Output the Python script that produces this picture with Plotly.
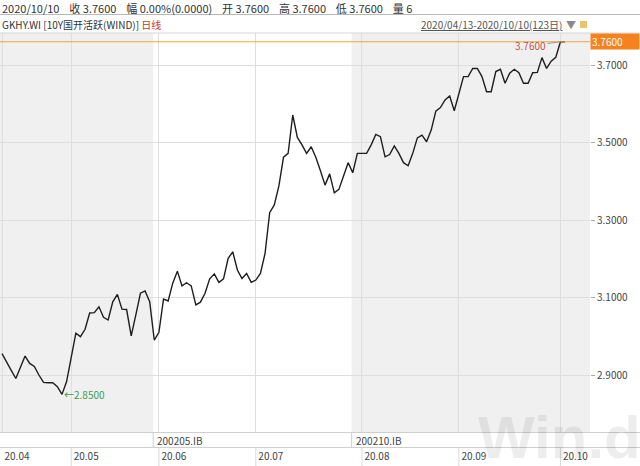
import plotly.graph_objects as go

# ---------------- data ----------------
values = [
    2.955, 2.935, 2.912, 2.891, 2.920, 2.949, 2.930, 2.922, 2.900, 2.881,
    2.880, 2.880, 2.870, 2.850, 2.883, 2.950, 3.008, 2.999, 3.018, 3.060,
    3.061, 3.076, 3.049, 3.042, 3.089, 3.108, 3.070, 3.069, 3.001, 3.055,
    3.111, 3.117, 3.089, 2.990, 3.010, 3.096, 3.091, 3.137, 3.168, 3.130,
    3.138, 3.130, 3.081, 3.088, 3.111, 3.148, 3.161, 3.139, 3.148, 3.201,
    3.218, 3.171, 3.149, 3.162, 3.139, 3.145, 3.162, 3.214, 3.319, 3.339,
    3.388, 3.462, 3.472, 3.571, 3.513, 3.494, 3.472, 3.489, 3.462, 3.427,
    3.390, 3.419, 3.370, 3.379, 3.413, 3.448, 3.422, 3.472, 3.472, 3.472,
    3.494, 3.521, 3.515, 3.463, 3.469, 3.491, 3.472, 3.448, 3.440, 3.472,
    3.512, 3.519, 3.502, 3.532, 3.581, 3.590, 3.610, 3.620, 3.582, 3.629,
    3.670, 3.670, 3.691, 3.691, 3.670, 3.631, 3.631, 3.683, 3.689, 3.653,
    3.679, 3.689, 3.680, 3.653, 3.653, 3.680, 3.681, 3.719, 3.691, 3.710,
    3.720, 3.760, 3.760,
]
month_idx = [0, 15, 34, 55, 78, 99, 121]
month_labels = ["20.04", "20.05", "20.06", "20.07", "20.08", "20.09", "20.10"]
y_ticks = [2.9, 3.1, 3.3, 3.5, 3.7]
contract_first_idx = [33, 76]
contract_names = ["200205.IB", "200210.IB"]

header_items = ["2020/10/10", "收\u00a03.7600", "幅\u00a00.00%(0.0000)", "开\u00a03.7600",
                "高\u00a03.7600", "低\u00a03.7600", "量\u00a06"]
header_code = "GKHY.WI [10Y国开活跃(WIND)]"
header_freq = "日线"
date_range = "2020/04/13-2020/10/10(123日)"

x = list(range(len(values)))
last_i = len(values) - 1
last_v = values[-1]
min_i = values.index(min(values))
min_v = values[min_i]

# ---------------- layout geometry ----------------
W, H = 640, 466
ML, MR, MT, MB = 0, 50, 33, 34
PW, PH = W - ML - MR, H - MT - MB
X_RANGE = [-0.433, 127.41]
Y_RANGE = [2.7529, 3.7826]


def py(p):
    """pixel row -> paper y"""
    return 1 + (MT - p) / PH


def px(p):
    """pixel column -> paper x"""
    return (p - ML) / PW


FONT = "Noto Sans CJK SC, Noto Sans, sans-serif"
GRID = "#dedede"
BAND = "#f0f0f0"

fig = go.Figure()
fig.add_trace(go.Scatter(
    x=x, y=values, mode="lines",
    line=dict(color="#1e1e1e", width=1.4),
    hoverinfo="skip", showlegend=False,
))

shapes = []
# alternating contract background bands
bounds = [X_RANGE[0]] + [c - 0.25 for c in contract_first_idx] + [X_RANGE[1]]
for k in range(len(bounds) - 1):
    if k % 2 == 0:
        shapes.append(dict(type="rect", xref="x", yref="paper",
                           x0=bounds[k], x1=bounds[k + 1], y0=0, y1=1,
                           fillcolor=BAND, line=dict(width=0), layer="below"))
# contract separators in the lower strip
for c in contract_first_idx:
    shapes.append(dict(type="line", xref="x", yref="paper",
                       x0=c - 0.25, x1=c - 0.25, y0=0, y1=py(447.5),
                       line=dict(color="#d0d0d0", width=1)))
# month separators in the label row
for m in month_idx[1:]:
    shapes.append(dict(type="line", xref="x", yref="paper",
                       x0=m, x1=m, y0=py(447.5), y1=py(466),
                       line=dict(color="#d8d8d8", width=1)))
# horizontal frame lines
for yy, col in [(MT, "#d6d6d6"), (432.5, "#cfcfcf"), (447.5, "#cfcfcf"), (14.5, "#b8b8b8")]:
    shapes.append(dict(type="line", xref="paper", yref="paper",
                       x0=0, x1=px(W), y0=py(yy), y1=py(yy),
                       line=dict(color=col, width=1)))
# last-value orange line
shapes.append(dict(type="line", xref="paper", yref="y", x0=0, x1=1,
                   y0=last_v, y1=last_v, line=dict(color="#f2a43a", width=1)))
# small icon next to the date range
shapes.append(dict(type="rect", xref="paper", yref="paper",
                   x0=px(580), x1=px(587), y0=py(28), y1=py(21),
                   fillcolor="#e9c46a", line=dict(width=0)))

annotations = [
    dict(xref="paper", yref="paper", x=px(0), y=py(7.5), xanchor="left", yanchor="middle",
         text="\u00a0\u00a0\u00a0\u00a0".join(header_items), showarrow=False,
         font=dict(family=FONT, size=11, color="#333333")),
    dict(xref="paper", yref="paper", x=px(0), y=py(24.5), xanchor="left", yanchor="middle",
         text=f"{header_code} <span style='color:#c0392b'>{header_freq}</span>",
         showarrow=False, font=dict(family=FONT, size=10, color="#333333")),
    dict(xref="paper", yref="paper", x=px(564), y=py(24.5), xanchor="right", yanchor="middle",
         text=f"<u>{date_range}</u>", showarrow=False,
         font=dict(family=FONT, size=10, color="#555555")),
    dict(xref="paper", yref="paper", x=px(571), y=py(24), xanchor="center", yanchor="middle",
         text="▼", showarrow=False, font=dict(family=FONT, size=10, color="#8a8a8a")),
    # last value label
    dict(xref="x", yref="y", x=last_i - 1, y=last_v, text=f"{last_v:.4f}",
         showarrow=True, arrowhead=0, arrowwidth=1, arrowcolor="#9a9a9a",
         ax=-30, ay=4, font=dict(family=FONT, size=10, color="#c0504d")),
    # min value label
    dict(xref="x", yref="y", x=min_i, y=min_v, text=f"←{min_v:.4f}",
         xanchor="left", yanchor="middle", xshift=0, showarrow=False,
         font=dict(family=FONT, size=10, color="#3a9a4e")),
    # orange price tag on the axis
    dict(xref="paper", yref="y", x=1, y=last_v, text=f"{last_v:.4f}",
         xanchor="left", yanchor="middle", showarrow=False, align="left",
         bgcolor="#f5821f", width=46, height=13, borderpad=1,
         font=dict(family=FONT, size=10, color="#ffffff")),
    # watermark
    dict(xref="paper", yref="paper", x=px(476), y=py(437), xanchor="left", yanchor="middle",
         text="<b>Win.d</b>", showarrow=False,
         font=dict(family="Liberation Sans, Arial, sans-serif", size=60, color="rgba(0,0,0,0.07)")),
]
for c, name in zip(contract_first_idx, contract_names):
    annotations.append(dict(xref="x", yref="paper", x=c - 0.25, y=py(440), xanchor="left",
                            yanchor="middle", xshift=2, text=name, showarrow=False,
                            font=dict(family=FONT, size=10, color="#444444")))

fig.update_layout(
    width=W, height=H,
    margin=dict(l=ML, r=MR, t=MT, b=MB, pad=0),
    paper_bgcolor="#ffffff", plot_bgcolor="#ffffff",
    showlegend=False,
    shapes=shapes, annotations=annotations,
    xaxis=dict(range=X_RANGE, tickvals=month_idx, ticktext=month_labels,
               showgrid=True, gridcolor=GRID, gridwidth=1, zeroline=False,
               showline=False, ticks="", ticklabelstandoff=17, ticklabelshift=15,
               tickfont=dict(family=FONT, size=10, color="#444444"), fixedrange=True),
    yaxis=dict(range=Y_RANGE, side="right", tickvals=y_ticks, tickformat=".4f",
               showgrid=True, gridcolor=GRID, gridwidth=1, zeroline=False,
               showline=False, ticks="outside", ticklen=4, tickcolor="#aaaaaa",
               tickfont=dict(family=FONT, size=10, color="#444444"), fixedrange=True),
)

fig.write_html("out.html", config={"displayModeBar": False},
               post_script="document.body.style.margin='0';document.body.style.overflow='hidden';")
